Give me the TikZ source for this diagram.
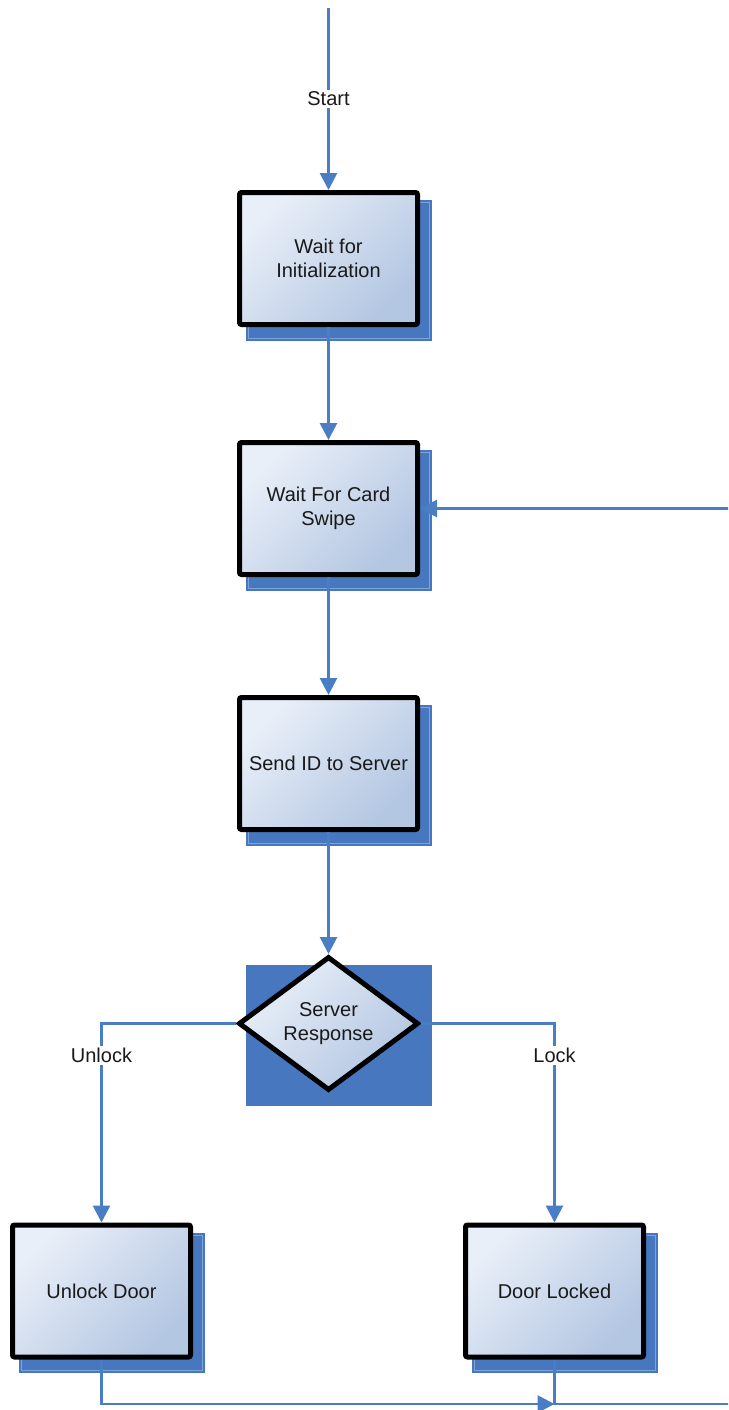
\documentclass[tikz,border=0pt]{standalone}
\usepackage{fontspec}
\setmainfont{Liberation Sans}
\usetikzlibrary{arrows.meta,shapes.geometric,backgrounds}

\definecolor{flowblue}{HTML}{4A7EC4}
\definecolor{shadeblue}{HTML}{4677BF}
\definecolor{shadeline}{HTML}{7FA3D6}
\definecolor{boxlight}{HTML}{E9EFF8}
\definecolor{boxdark}{HTML}{B3C6E2}

\begin{document}
\begin{tikzpicture}[x=1pt, y=-1pt,
  every node/.style={font=\fontsize{20}{24.5}\selectfont, text=black!90},
  state/.style={draw=black, line width=5pt, rounded corners=2pt,
    minimum width=178pt, minimum height=132pt, inner sep=2pt, align=center,
    top color=boxlight, bottom color=boxdark, shading angle=45},
  decision/.style={diamond, draw=black, line width=5pt, aspect=1.35,
    minimum width=180pt, minimum height=134pt, inner sep=0pt, align=center,
    top color=boxlight, bottom color=boxdark, shading angle=45},
  flow/.style={draw=flowblue, line width=2.8pt},
  arr/.style={flow, -{Triangle[width=17pt,length=17pt]}},
  lbl/.style={fill=white, inner sep=2pt}]

  \useasboundingbox (0,0) rectangle (728,1410);
  \clip (0,0) rectangle (728,1410);

  \node[state] (init) at (328.5,258.5) {Wait for\\Initialization};
  \node[state] (card) at (328.5,508.5) {Wait For Card\\Swipe};
  \node[state] (send) at (328.5,763.5) {Send ID to Server};
  \node[decision] (resp) at (328.5,1023.5) {Server\\Response};
  \node[state] (unlock) at (101.5,1291) {Unlock Door};
  \node[state] (locked) at (554.5,1291) {Door Locked};

  \coordinate (entry) at (328.5,8);
  \coordinate (join) at (554.5,1404);
  \coordinate (farright) at (745,1404);

  % shadows
  \begin{pgfonlayer}{background}
    \foreach \n in {init,card,send,resp,unlock,locked} {
      \fill[shadeblue] ([shift={(-82.5,-58.5)}]\n.center) rectangle ([shift={(103.5,82)}]\n.center);
    }
    \foreach \n in {init,card,send,unlock,locked} {
      \draw[shadeline, line width=0.8pt] ([shift={(-80,-56)}]\n.center) rectangle ([shift={(101,79.5)}]\n.center);
    }
  \end{pgfonlayer}

  % connectors
  \draw[arr] (entry) -- node[lbl] {Start} (init);
  \draw[arr] (init) -- (card);
  \draw[arr] (card) -- (send);
  \draw[arr] (send) -- (resp);
  \draw[arr] (resp.west) -| node[lbl, pos=0.58] {Unlock} (unlock.north);
  \draw[arr] (resp.east) -| node[lbl, pos=0.58] {Lock} (locked.north);
  \draw[arr] (unlock.south) |- (join);
  \draw[arr] (locked.south) -- (join) -- (farright) |- (card.east);

\end{tikzpicture}
\end{document}
